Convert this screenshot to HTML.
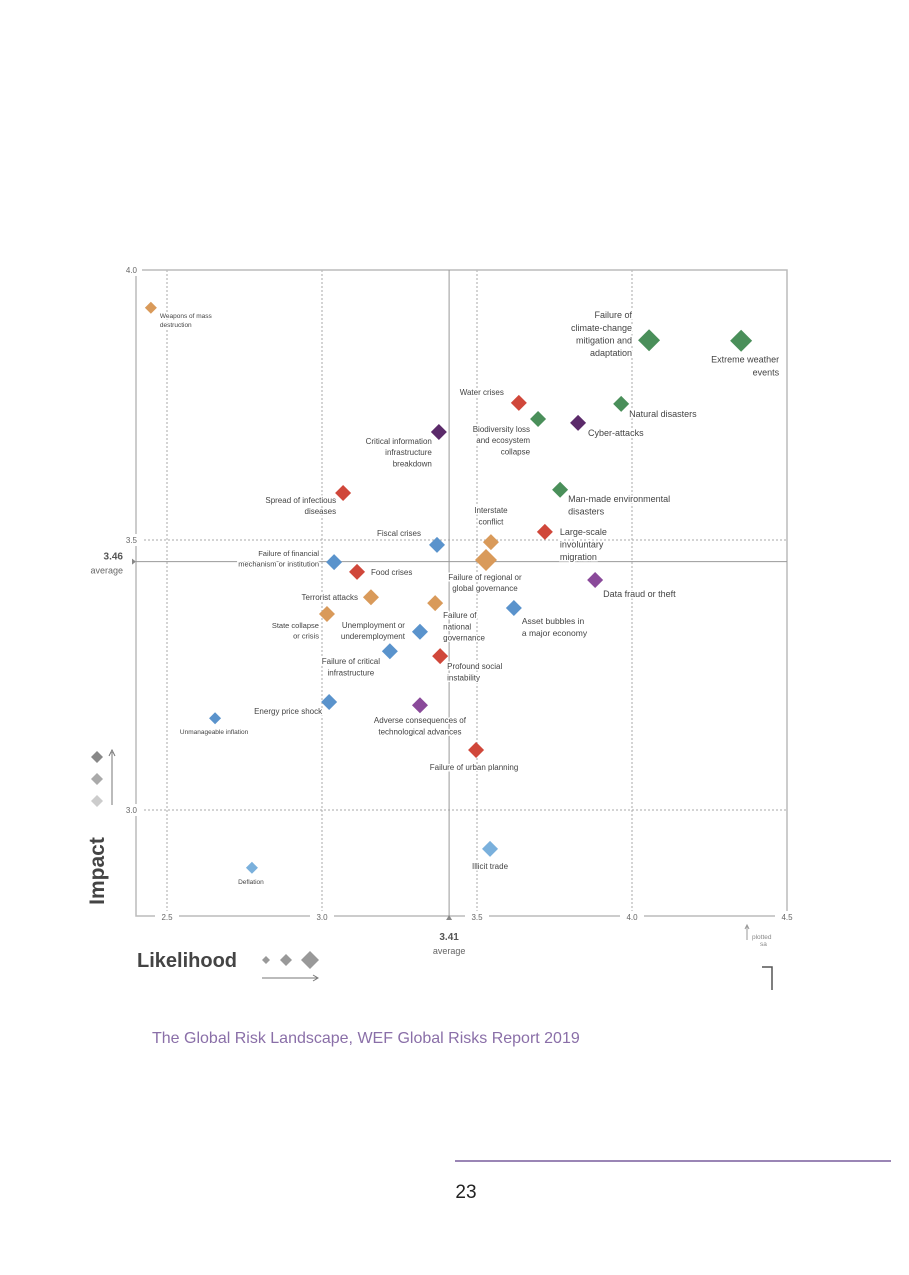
<!DOCTYPE html>
<html><head><meta charset="utf-8"><style>
body{margin:0;background:#fff;width:909px;height:1275px;overflow:hidden;font-family:"Liberation Sans",sans-serif}
svg{position:absolute;left:0;top:0}
</style></head><body>
<svg id="chart" width="909" height="1275" viewBox="0 0 909 1275" font-family="Liberation Sans, sans-serif"></svg>
<script>
const names=["Weapons of mass destruction","Failure of climate-change mitigation and adaptation","Extreme weather events","Water crises","Biodiversity loss and ecosystem collapse","Cyber-attacks","Natural disasters","Critical information infrastructure breakdown","Spread of infectious diseases","Man-made environmental disasters","Interstate conflict","Large-scale involuntary migration","Fiscal crises","Failure of regional or global governance","Failure of financial mechanism or institution","Food crises","Data fraud or theft","Terrorist attacks","Failure of national governance","Asset bubbles in a major economy","State collapse or crisis","Unemployment or underemployment","Failure of critical infrastructure","Profound social instability","Energy price shock","Adverse consequences of technological advances","Unmanageable inflation","Failure of urban planning","Illicit trade","Deflation"];
const likelihood=[2.448,4.055,4.352,3.635,3.697,3.826,3.965,3.377,3.068,3.768,3.545,3.719,3.371,3.529,3.039,3.113,3.881,3.158,3.365,3.619,3.016,3.316,3.219,3.381,3.023,3.316,2.655,3.497,3.542,2.774];
const impact=[3.930,3.870,3.869,3.754,3.724,3.717,3.752,3.700,3.587,3.593,3.496,3.515,3.491,3.463,3.459,3.441,3.426,3.394,3.383,3.374,3.363,3.330,3.294,3.285,3.200,3.194,3.170,3.111,2.928,2.893];
const category=["geo","env","env","soc","env","tech","env","tech","soc","env","geo","soc","eco","geo","eco","soc","tech2","geo","geo","eco","geo","eco","eco","soc","eco","tech2","eco","soc","eco2","eco2"];
const trend=[1,3,3,2,2,2,2,2,2,2,2,2,2,3,2,2,2,2,2,2,2,2,2,2,2,2,1,2,2,1];
const xTicks=[2.5,3.0,3.5,4.0,4.5];
const yTicks=[3.0,3.5,4.0];
const avgX=3.41, avgY=3.46;
const labelLines=[["Weapons of mass","destruction"],["Failure of","climate-change","mitigation and","adaptation"],["Extreme weather","events"],["Water crises"],["Biodiversity loss","and ecosystem","collapse"],["Cyber-attacks"],["Natural disasters"],["Critical information","infrastructure","breakdown"],["Spread of infectious","diseases"],["Man-made environmental","disasters"],["Interstate","conflict"],["Large-scale","involuntary","migration"],["Fiscal crises"],["Failure of regional or","global governance"],["Failure of financial","mechanism or institution"],["Food crises"],["Data fraud or theft"],["Terrorist attacks"],["Failure of","national","governance"],["Asset bubbles in","a major economy"],["State collapse","or crisis"],["Unemployment or","underemployment"],["Failure of critical","infrastructure"],["Profound social","instability"],["Energy price shock"],["Adverse consequences of","technological advances"],["Unmanageable inflation"],["Failure of urban planning"],["Illicit trade"],["Deflation"]];
const layout=[["start",9,10,6.5],["end",-17,-22,9],["end",38,22,9],["end",-15,-8,8],["end",-8,13,8],["start",10,13,9],["start",8,13,9],["end",-7,12,8],["end",-7,10,8],["start",8,12,9],["middle",0,-29,8],["start",15,3,9],["end",-16,-9,8],["middle",-1,20,8],["end",-15,-6,7.5],["start",14,3,8],["start",8,17,9],["end",-13,3,8],["start",8,15,8],["start",8,16,8.5],["end",-8,14,7.5],["end",-15,-4,8],["middle",-39,13,8],["start",7,13,8],["end",-7,12,8],["middle",0,18,8],["middle",-1,16,6.5],["middle",-2,20,8],["middle",0,20,8],["middle",-1,16,6.5]];
const colors={geo:"#d99a5a",env:"#4a8f5a",soc:"#d0473a",tech:"#5b2a6a",tech2:"#8a4a9a",eco:"#5a93cc",eco2:"#7ab0dc"};
const X=v=>167+(v-2.5)*310, Y=v=>270+(4-v)*540;
const svg=document.getElementById('chart');const NS="http://www.w3.org/2000/svg";
function mk(t,a,p){const e=document.createElementNS(NS,t);for(const k in a)e.setAttribute(k,a[k]);(p||svg).appendChild(e);return e;}
// grid
xTicks.slice(0,4).forEach(v=>{const l=mk('line',{x1:X(v),x2:X(v),y1:270,y2:916,stroke:'#aaa','stroke-dasharray':'2,2'});

});
yTicks.slice(0,2).forEach(v=>{const l=mk('line',{x1:136,x2:787,y1:Y(v),y2:Y(v),stroke:'#aaa','stroke-dasharray':'2,2'});

});
let f=mk('path',{d:'M136 270H787V916',fill:'none',stroke:'#bbb','stroke-width':1.5});


let ax=mk('path',{d:'M136 270V916H787',fill:'none',stroke:'#bbb','stroke-width':1.5});


let av1=mk('line',{x1:X(avgX),x2:X(avgX),y1:270,y2:916,stroke:'#999'});


let av2=mk('line',{x1:136,x2:787,y1:Y(avgY),y2:Y(avgY),stroke:'#999'});


// ticks
xTicks.forEach(v=>{mk('rect',{x:X(v)-12,y:911,width:24,height:10,fill:'#fff'});const t=mk('text',{x:X(v),y:920,'font-size':8,fill:'#666','text-anchor':'middle'});t.textContent=v.toFixed(1);

});
yTicks.forEach(v=>{mk('rect',{x:130,y:Y(v)-6,width:12,height:12,fill:'#fff'});const t=mk('text',{x:137,y:Y(v)+3,'font-size':8,fill:'#666','text-anchor':'end'});t.textContent=v.toFixed(1);

});
let a1=mk('text',{x:123,y:Y(avgY)-2,'font-size':10,'font-weight':'bold',fill:'#555','text-anchor':'end'});a1.textContent=avgY.toFixed(2);


let a2=mk('text',{x:123,y:Y(avgY)+12,'font-size':9,fill:'#666','text-anchor':'end'});a2.textContent='average';


mk('path',{d:`M132 ${Y(avgY)-3}L136 ${Y(avgY)}L132 ${Y(avgY)+3}Z`,fill:'#888'});
mk('path',{d:`M${X(avgX)-3} 920L${X(avgX)} 915L${X(avgX)+3} 920Z`,fill:'#888'});
let a3=mk('text',{x:X(avgX),y:940,'font-size':10,'font-weight':'bold',fill:'#555','text-anchor':'middle'});a3.textContent=avgX.toFixed(2);


let a4=mk('text',{x:X(avgX),y:954,'font-size':9,fill:'#666','text-anchor':'middle'});a4.textContent='average';


// points
names.forEach((n,i)=>{const cx=X(likelihood[i]),cy=Y(impact[i]);const s=[0,6,8,11][trend[i]];
const g=mk('g',{});


const [anc,dx,dy,fs]=layout[i];
labelLines[i].forEach((ln,j)=>{const t=mk('text',{x:cx+dx,y:cy+dy+j*fs*1.4,'font-size':fs,fill:'#444','text-anchor':anc,stroke:'#fff','stroke-width':3,'paint-order':'stroke'},g);t.textContent=ln;});
mk('path',{d:`M${cx} ${cy-s}L${cx+s} ${cy}L${cx} ${cy+s}L${cx-s} ${cy}Z`,fill:colors[category[i]]},g);
});
// titles & legend
let it=mk('text',{x:0,y:0,'font-size':21,'font-weight':'bold',fill:'#444','text-anchor':'middle',transform:'translate(104,871) rotate(-90)'});it.textContent='Impact';


let lt=mk('text',{x:137,y:967,'font-size':20,'font-weight':'bold',fill:'#444'});lt.textContent='Likelihood';


[[97,757,6,'#888'],[97,779,6,'#aaa'],[97,801,6,'#ccc']].forEach(d=>mk('path',{d:`M${d[0]} ${d[1]-d[2]}l${d[2]} ${d[2]}l${-d[2]} ${d[2]}l${-d[2]} ${-d[2]}Z`,fill:d[3]}));
mk('path',{d:'M112 805V752M109 756L112 750L115 756',fill:'none',stroke:'#777'});
[[266,960,4],[286,960,6],[310,960,9]].forEach(d=>mk('path',{d:`M${d[0]} ${d[1]-d[2]}l${d[2]} ${d[2]}l${-d[2]} ${d[2]}l${-d[2]} ${-d[2]}Z`,fill:'#999'}));
mk('path',{d:'M262 978H317M313 975L318 978L313 981',fill:'none',stroke:'#777'});
mk('path',{d:'M747 940V926M745 929L747 925L749 929',fill:'none',stroke:'#999'});
let ps=mk('text',{x:752,y:939,'font-size':6.5,fill:'#888'});ps.textContent='plotted';
let ps2=mk('text',{x:760,y:946,'font-size':6.5,fill:'#888'});ps2.textContent='sa';
mk('path',{d:'M762 967H772V990',fill:'none',stroke:'#555','stroke-width':1.5});
let cap=mk('text',{x:152,y:1043,'font-size':16,fill:'#8a6fa8'});cap.textContent='The Global Risk Landscape, WEF Global Risks Report 2019';


mk('line',{x1:455,x2:891,y1:1161,y2:1161,stroke:'#9a85b5','stroke-width':2});
let pn=mk('text',{x:466,y:1198,'font-size':19,fill:'#222','text-anchor':'middle'});pn.textContent='23';


</script>
</body></html>
